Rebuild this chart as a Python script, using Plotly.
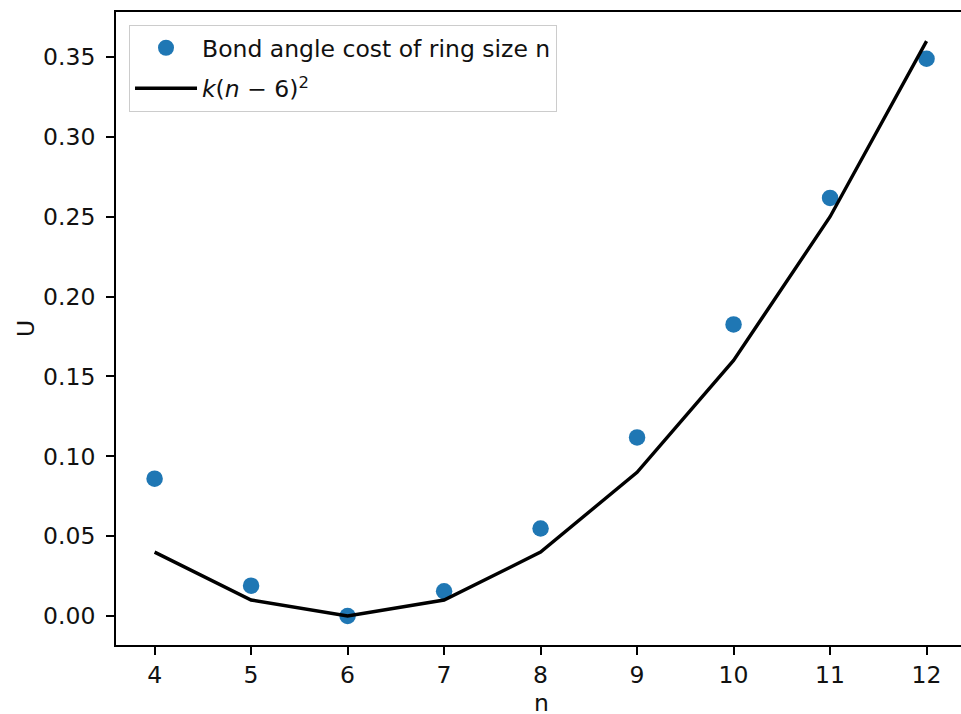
import plotly.graph_objects as go

# Ring size n and the measured bond-angle cost
ring_size = [4, 5, 6, 7, 8, 9, 10, 11, 12]
bond_angle_cost = [0.086, 0.019, 0.0, 0.0155, 0.0548, 0.1118, 0.1826, 0.2618, 0.3489]
# Quadratic model k(n-6)^2 with k = 0.01, tabulated at each ring size
quadratic_fit = [0.04, 0.01, 0.0, 0.01, 0.04, 0.09, 0.16, 0.25, 0.36]

x_ticks = [4, 5, 6, 7, 8, 9, 10, 11, 12]
y_ticks = [0.0, 0.05, 0.10, 0.15, 0.20, 0.25, 0.30, 0.35]

FONT = "DejaVu Sans"
TXT = "#111111"
FS = 23.5

fig = go.Figure()
fig.add_trace(go.Scatter(
    x=ring_size, y=bond_angle_cost, mode="markers",
    name="Bond angle cost of ring size n", legendgroup="a",
    marker=dict(color="#1f77b4", size=16.5, line=dict(width=0)),
))
fig.add_trace(go.Scatter(
    x=ring_size, y=quadratic_fit, mode="lines",
    name="<i>k</i>(<i>n</i> − 6)<sup>2</sup>", legendgroup="b",
    line=dict(color="black", width=3.4),
))

axis_common = dict(
    showgrid=False, zeroline=False, showline=True, linecolor="black",
    linewidth=1.9, ticks="outside", ticklen=8, tickwidth=1.9,
    tickcolor="black", tickfont=dict(family=FONT, size=FS, color=TXT),
    title_font=dict(family=FONT, size=FS, color=TXT), automargin=False,
)

fig.update_layout(
    width=961, height=714,
    margin=dict(l=116, r=0, t=12, b=69),
    paper_bgcolor="white", plot_bgcolor="white",
    font=dict(family=FONT, size=FS, color=TXT),
    xaxis=dict(axis_common, range=[3.6, 12.357], tickvals=x_ticks,
               mirror=True, ticklabelstandoff=0),
    yaxis=dict(axis_common, range=[-0.01816, 0.3782], tickvals=y_ticks,
               tickformat=".2f", ticklabelstandoff=6,
               title=dict(text="U", standoff=2)),
    legend=dict(
        x=0.0154, y=0.9795, xanchor="left", yanchor="top",
        bgcolor="rgba(255,255,255,0.8)", bordercolor="#cccccc", borderwidth=1,
        font=dict(family=FONT, size=FS, color=TXT),
        traceorder="grouped", tracegroupgap=7, itemwidth=62,
    ),
    showlegend=True,
)

# x-axis title placed below the tick labels, in a compact box
fig.add_annotation(
    text="n", xref="paper", yref="paper", x=0.503, y=-58 / 633,
    xanchor="center", yanchor="middle", height=22, showarrow=False,
    font=dict(family=FONT, size=FS, color=TXT),
)

fig.write_html("out.html")
